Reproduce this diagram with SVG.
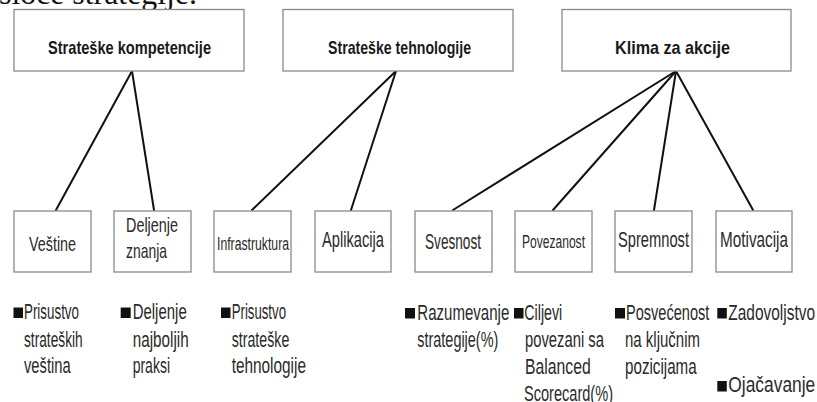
<svg xmlns="http://www.w3.org/2000/svg" width="817" height="402" viewBox="0 0 817 402">
<style>
.box{fill:#fff;stroke:#8a8a8a;stroke-width:1.3}
.conn line{stroke:#111;stroke-width:2;stroke-linecap:round}
.t{font-family:"Liberation Sans",Arial,sans-serif;fill:#2a2a2a}
.top{font-size:18.5px;font-weight:bold;fill:#1a1a1a}
.sq{fill:#111}
.b{font-size:22px}
</style>
<rect width="817" height="402" fill="#fff"/>
<text x="-1" y="3.5" font-family="'Liberation Serif',serif" font-size="32" fill="#111" textLength="198" lengthAdjust="spacingAndGlyphs">sloce strategije.</text>

<g class="conn">
<line x1="132" y1="71" x2="56" y2="210"/>
<line x1="132" y1="71" x2="154" y2="210"/>
<line x1="396" y1="71" x2="252" y2="210"/>
<line x1="396" y1="71" x2="351" y2="210"/>
<line x1="676" y1="71" x2="453" y2="210"/>
<line x1="676" y1="71" x2="553" y2="210"/>
<line x1="676" y1="71" x2="654" y2="210"/>
<line x1="676" y1="71" x2="753" y2="210"/>
</g>

<g id="n-strateske-kompetencije">
<rect class="box" x="14" y="9.5" width="230" height="61.5"/>
<text class="t top" x="48" y="54" textLength="163" lengthAdjust="spacingAndGlyphs">Strateške kompetencije</text>
</g>
<g id="n-strateske-tehnologije">
<rect class="box" x="283" y="9.5" width="230" height="61.5"/>
<text class="t top" x="328" y="54" textLength="143" lengthAdjust="spacingAndGlyphs">Strateške tehnologije</text>
</g>
<g id="n-klima">
<rect class="box" x="562" y="9.5" width="229" height="61.5"/>
<text class="t top" x="615" y="54" textLength="115" lengthAdjust="spacingAndGlyphs">Klima za akcije</text>
</g>

<g id="n-vestine">
<rect class="box" x="14" y="211" width="77" height="61"/>
<text class="t" x="29" y="250.7" font-size="21" textLength="47" lengthAdjust="spacingAndGlyphs">Veštine</text>
</g>
<g id="n-deljenje-znanja">
<rect class="box" x="114" y="211" width="77" height="61"/>
<text class="t" x="126" y="231.7" font-size="21" textLength="52" lengthAdjust="spacingAndGlyphs">Deljenje</text>
<text class="t" x="126" y="257.7" font-size="21" textLength="41" lengthAdjust="spacingAndGlyphs">znanja</text>
</g>
<g id="n-infrastruktura">
<rect class="box" x="214" y="211" width="77" height="61"/>
<text class="t" x="217" y="250" font-size="18" textLength="72" lengthAdjust="spacingAndGlyphs">Infrastruktura</text>
</g>
<g id="n-aplikacija">
<rect class="box" x="315" y="211" width="76" height="61"/>
<text class="t" x="322" y="247.3" font-size="22" textLength="62" lengthAdjust="spacingAndGlyphs">Aplikacija</text>
</g>
<g id="n-svesnost">
<rect class="box" x="415" y="211" width="77" height="61"/>
<text class="t" x="425" y="249" font-size="22" textLength="56" lengthAdjust="spacingAndGlyphs">Svesnost</text>
</g>
<g id="n-povezanost">
<rect class="box" x="515" y="211" width="77" height="61"/>
<text class="t" x="522" y="248" font-size="17.5" textLength="63" lengthAdjust="spacingAndGlyphs">Povezanost</text>
</g>
<g id="n-spremnost">
<rect class="box" x="615" y="211" width="77" height="61"/>
<text class="t" x="618" y="246.7" font-size="22" textLength="71" lengthAdjust="spacingAndGlyphs">Spremnost</text>
</g>
<g id="n-motivacija">
<rect class="box" x="716" y="211" width="76" height="61"/>
<text class="t" x="720" y="246.7" font-size="22" textLength="68" lengthAdjust="spacingAndGlyphs">Motivacija</text>
</g>

<g id="i-prisustvo-vestina">
<rect class="sq" x="13.5" y="307.5" width="9.5" height="10.5"/>
<text class="t b" x="24" y="319" textLength="55" lengthAdjust="spacingAndGlyphs">Prisustvo</text>
<text class="t b" x="24" y="346.5" textLength="58.7" lengthAdjust="spacingAndGlyphs">strateških</text>
<text class="t b" x="24" y="373" textLength="46.7" lengthAdjust="spacingAndGlyphs">veština</text>
</g>
<g id="i-deljenje-praksi">
<rect class="sq" x="120.7" y="307.5" width="10" height="10.5"/>
<text class="t b" x="132.7" y="319" textLength="54" lengthAdjust="spacingAndGlyphs">Deljenje</text>
<text class="t b" x="132.7" y="346.5" textLength="56" lengthAdjust="spacingAndGlyphs">najboljih</text>
<text class="t b" x="132.7" y="373" textLength="37.3" lengthAdjust="spacingAndGlyphs">praksi</text>
</g>
<g id="i-prisustvo-tehnologije">
<rect class="sq" x="221" y="307.5" width="9.5" height="10.5"/>
<text class="t b" x="231.7" y="319" textLength="54.3" lengthAdjust="spacingAndGlyphs">Prisustvo</text>
<text class="t b" x="231.7" y="346.5" textLength="57.6" lengthAdjust="spacingAndGlyphs">strateške</text>
<text class="t b" x="231.7" y="373" textLength="74.3" lengthAdjust="spacingAndGlyphs">tehnologije</text>
</g>
<g id="i-razumevanje">
<rect class="sq" x="405" y="308" width="10" height="10.5"/>
<text class="t b" x="417.3" y="320" textLength="92" lengthAdjust="spacingAndGlyphs">Razumevanje</text>
<text class="t b" x="417.3" y="346.7" textLength="81" lengthAdjust="spacingAndGlyphs">strategije(%)</text>
</g>
<g id="i-ciljevi">
<rect class="sq" x="514" y="308" width="9.5" height="10.5"/>
<text class="t b" x="524.3" y="320" textLength="38" lengthAdjust="spacingAndGlyphs">Ciljevi</text>
<text class="t b" x="525" y="346.7" textLength="79" lengthAdjust="spacingAndGlyphs">povezani sa</text>
<text class="t b" x="525" y="373.5" textLength="65.7" lengthAdjust="spacingAndGlyphs">Balanced</text>
<text class="t b" x="524" y="400.5" textLength="89" lengthAdjust="spacingAndGlyphs">Scorecard(%)</text>
</g>
<g id="i-posvecenost">
<rect class="sq" x="615" y="308" width="10" height="10.5"/>
<text class="t b" x="626" y="320" textLength="83.3" lengthAdjust="spacingAndGlyphs">Posvećenost</text>
<text class="t b" x="625" y="346.7" textLength="75" lengthAdjust="spacingAndGlyphs">na ključnim</text>
<text class="t b" x="625" y="373.5" textLength="71.7" lengthAdjust="spacingAndGlyphs">pozicijama</text>
</g>
<g id="i-zadovoljstvo">
<rect class="sq" x="717.3" y="308" width="9.5" height="10.5"/>
<text class="t b" x="728.3" y="320" textLength="86.7" lengthAdjust="spacingAndGlyphs">Zadovoljstvo</text>
</g>
<g id="i-ojacavanje">
<rect class="sq" x="717.3" y="381" width="9.5" height="10.5"/>
<text class="t b" x="728.3" y="392.3" textLength="87" lengthAdjust="spacingAndGlyphs">Ojačavanje</text>
</g>
</svg>
